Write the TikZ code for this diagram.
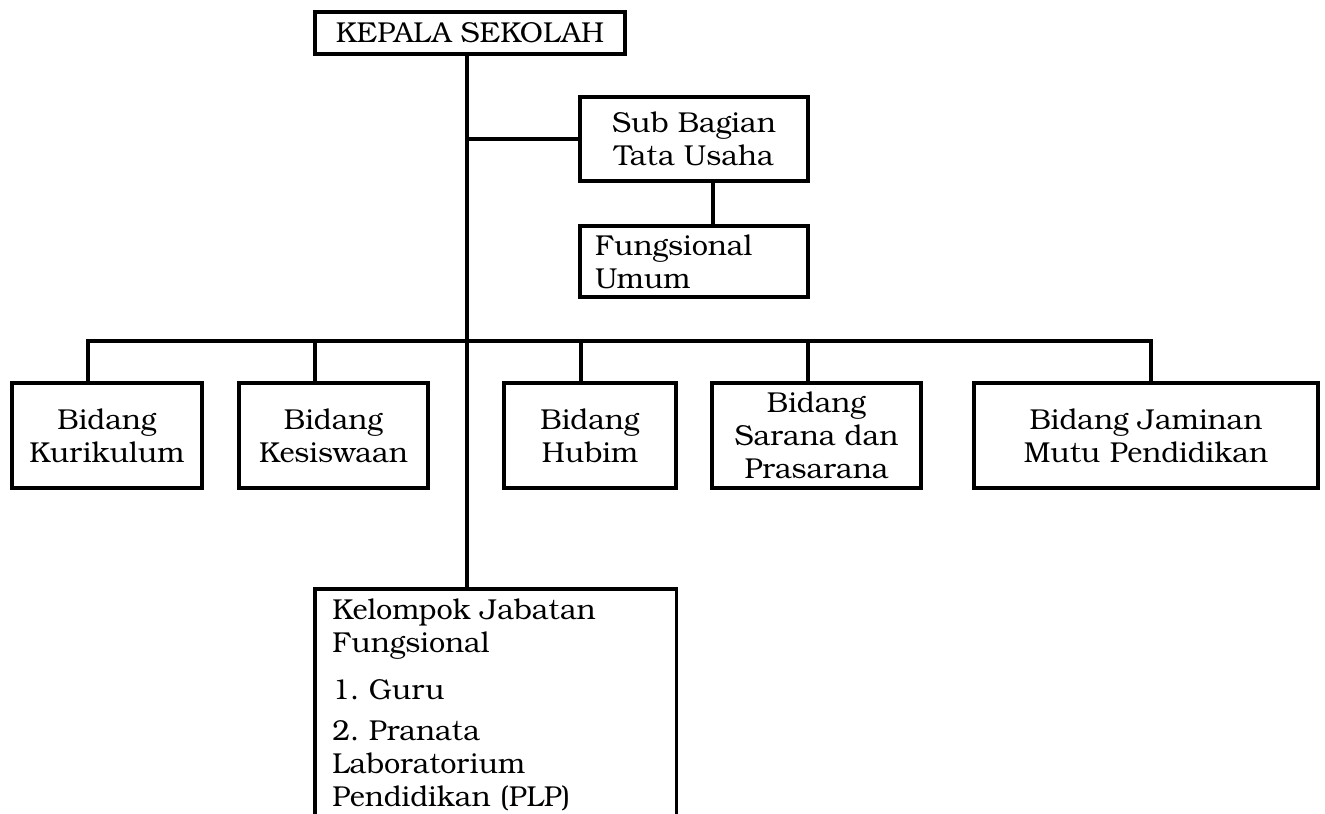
\documentclass[tikz,border=0pt]{standalone}
\usepackage{fontspec}
\setmainfont{TeX Gyre Bonum}
\begin{document}
\frenchspacing
\begin{tikzpicture}[x=0.75pt,y=-0.75pt,
  every node/.style={font=\fontsize{21.6}{24.75}\selectfont},
  ln/.style={line width=2.5pt},
  org/.style 2 args={draw, ln, align=center, inner sep=0pt,
    minimum width=#1*0.75pt, minimum height=#2*0.75pt},
  orgleft/.style={draw, ln, align=left, inner ysep=0pt}]
\useasboundingbox (0,0) rectangle (1325,814);

% boxes
\node[org={310}{42}] (kepala) at (470,33) {KEPALA SEKOLAH};
\node[org={228}{84}] (sub) at (694,139) {Sub Bagian\\Tata Usaha};
\node[orgleft, text width=148.5pt, inner xsep=11.25pt, minimum height=53.25pt] (fung) at (694,261.5) {Fungsional\\Umum};

\node[org={190}{105}] (kur) at (107,435.5) {Bidang\\Kurikulum};
\node[org={189}{105}] (kes) at (333.5,435.5) {Bidang\\Kesiswaan};
\node[org={172}{105}] (hub) at (590,435.5) {Bidang\\Hubim};
\node[org={209}{105}] (sar) at (816.5,435.5) {Bidang\\Sarana dan\\Prasarana};
\node[org={344}{105}] (jam) at (1146,435.5) {Bidang Jaminan\\Mutu Pendidikan};

\node[align=left, anchor=north west, text width=245.25pt, inner xsep=12.75pt, inner ysep=7.4pt] (kel) at (315,589)
  {Kelompok Jabatan\\Fungsional\\[10.5pt]1. Guru\\[6pt]2. Pranata\\Laboratorium\\Pendidikan (PLP)};

% helper coordinates
\coordinate (tk) at (467,0);
\coordinate (sf) at (713,0);
\coordinate (bot) at (0,818);
\coordinate (c1) at (88,341);
\coordinate (c2) at (315,341);
\coordinate (c3) at (581,341);
\coordinate (c4) at (808,341);
\coordinate (c5) at (1151,341);

% open-bottom box of kel
\draw[ln] (kel.north west |- bot) -- (kel.north west) -- (kel.north east) -- (kel.north east |- bot);

% connectors
\draw[ln] (kepala.south -| tk) -- (kel.north -| tk);
\draw[ln] (tk |- sub.west) -- (sub.west);
\draw[ln] (sub.south -| sf) -- (fung.north -| sf);
\draw[ln] (kur.north -| c1) -- (c1) -- (c5) -- (jam.north -| c5);
\draw[ln] (c2) -- (kes.north -| c2);
\draw[ln] (c3) -- (hub.north -| c3);
\draw[ln] (c4) -- (sar.north -| c4);
\end{tikzpicture}
\end{document}
